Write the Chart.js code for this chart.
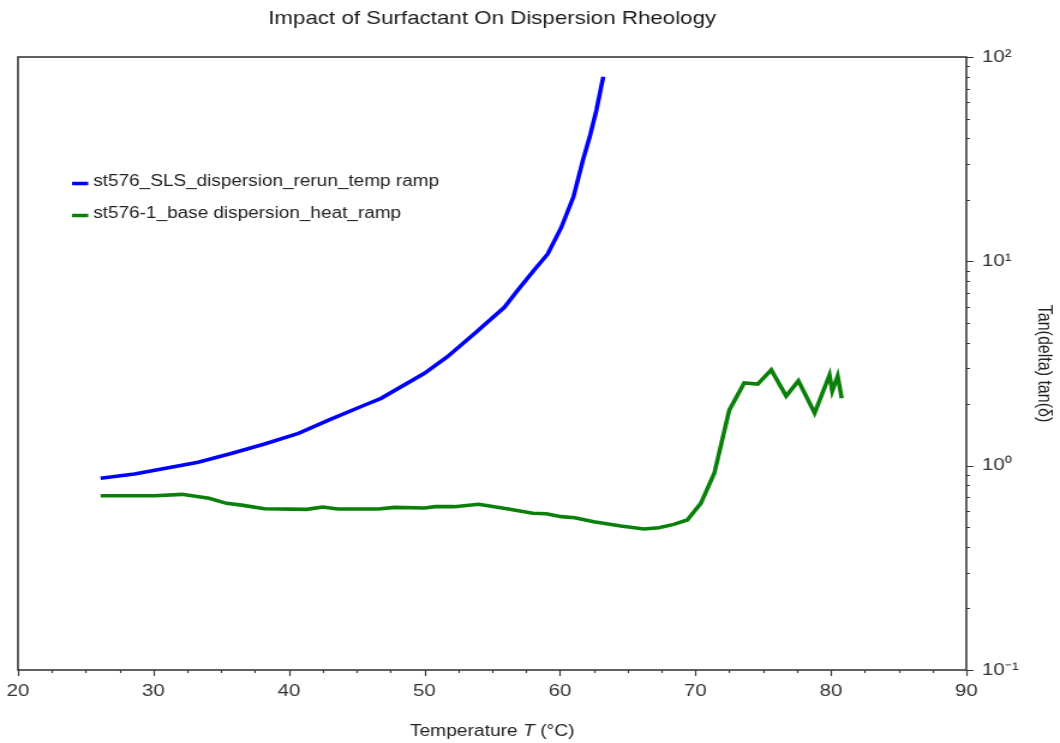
<!DOCTYPE html>
<html>
<head>
<meta charset="utf-8">
<title>Impact of Surfactant On Dispersion Rheology</title>
<style>
  html, body { margin: 0; padding: 0; background: #fff; overflow: hidden; }
  /* the plot is laid out on a narrower canvas and widened to the page */
  #wrap { width: 883px; height: 743px; transform: scaleX(1.20045); transform-origin: 0 0; }
</style>
<script src="https://cdn.jsdelivr.net/npm/chart.js@4/dist/chart.umd.min.js"></script>
</head>
<body>
<div id="wrap"><canvas id="c" width="883" height="743"></canvas></div>
<script>
// SLS dispersion, temperature ramp
const slsTemp = [26.1, 28.6, 30.6, 33.3, 35.8, 38.2, 40.7, 43.1, 45.6, 46.8, 50.0, 51.7, 53.7,
                 55.9, 56.9, 58.1, 59.1, 60.1, 61.0, 61.7, 62.2, 62.7, 63.2];
const slsTanDelta = [0.867, 0.910, 0.963, 1.039, 1.150, 1.276, 1.439, 1.691, 1.981, 2.136, 2.833, 3.414, 4.44,
                     5.96, 7.24, 9.07, 10.87, 14.65, 20.7, 31.3, 40.7, 55.1, 80.1];

// base dispersion, heat ramp
const baseTemp = [26.1, 30.1, 32.1, 34.1, 35.4, 36.5, 38.2, 41.3, 42.5, 43.6, 46.6, 47.8, 50.0, 50.8,
                  52.2, 54.0, 56.2, 58.0, 59.0, 60.1, 61.1, 62.5, 64.5, 66.2, 67.3, 68.4, 69.4, 70.4,
                  71.4, 72.5, 73.6, 74.6, 75.6, 76.7, 77.6, 78.8, 79.9, 80.1, 80.5, 80.8];
const baseTanDelta = [0.713, 0.713, 0.724, 0.692, 0.654, 0.641, 0.615, 0.611, 0.628, 0.614, 0.614, 0.625, 0.621, 0.630,
                      0.630, 0.647, 0.614, 0.585, 0.582, 0.563, 0.556, 0.532, 0.507, 0.490, 0.497, 0.516, 0.542, 0.654,
                      0.92, 1.87, 2.54, 2.51, 2.94, 2.19, 2.60, 1.81, 2.78, 2.32, 2.75, 2.14];

const seriesLabels = ['st576_SLS_dispersion_rerun_temp ramp', 'st576-1_base dispersion_heat_ramp'];
const xTickValues = [20, 30, 40, 50, 60, 70, 80, 90];
const yTickValues = [0.1, 1, 10, 100];

const FONT = '"Liberation Sans", Arial, sans-serif';
const INK = '#222';
const AXIS = '#3a3a3a';

const toPoints = (xs, ys) => xs.map((x, i) => ({ x: x, y: ys[i] }));
const SUP = { '-': '\u207B', '0': '\u2070', '1': '\u00B9', '2': '\u00B2', '3': '\u00B3' };
const powerLabel = v => '10' + String(Math.round(Math.log10(v))).split('').map(c => SUP[c]).join('');

// frame, tick marks, legend and x-axis title
const decorations = {
  id: 'decorations',
  afterDraw(chart) {
    const ctx = chart.ctx;
    const a = chart.chartArea;
    const xs = chart.scales.x, ys = chart.scales.y;
    ctx.save();
    ctx.strokeStyle = AXIS;
    ctx.lineWidth = 1.2;
    ctx.beginPath();
    for (let t = xs.min; t <= xs.max + 1e-9; t += 2.5) {
      const px = Math.round(xs.getPixelForValue(t)) + 0.5;
      const len = Math.abs(t % 10) < 1e-9 ? 6 : 3;
      ctx.moveTo(px, a.bottom);
      ctx.lineTo(px, a.bottom + len);
    }
    for (let e = -1; e <= 2; e++) {
      const d = Math.pow(10, e);
      for (let m = 1; m <= 9; m++) {
        const v = m * d;
        if (v > ys.max * 1.0001) break;
        const py = Math.round(ys.getPixelForValue(v)) + 0.5;
        const len = m === 1 ? 6 : 3;
        ctx.moveTo(a.right, py);
        ctx.lineTo(a.right + len, py);
      }
    }
    ctx.stroke();

    ctx.lineWidth = 1.6;
    ctx.strokeRect(a.left, a.top, a.right - a.left, a.bottom - a.top);

    // legend
    ctx.font = '15.8px ' + FONT;
    ctx.textBaseline = 'middle';
    ctx.textAlign = 'left';
    chart.data.datasets.forEach((ds, i) => {
      const y = 182 + i * 32;
      ctx.strokeStyle = ds.borderColor;
      ctx.lineWidth = 3.5;
      ctx.beginPath();
      ctx.moveTo(60, y + 1.5);
      ctx.lineTo(73.5, y + 1.5);
      ctx.stroke();
      ctx.fillStyle = INK;
      ctx.fillText(ds.label, 77.7, y);
    });

    // x-axis title with italic symbol
    const parts = [['Temperature ', 'normal'], ['T', 'italic'], [' (\u00B0C)', 'normal']];
    let total = 0;
    parts.forEach(p => { ctx.font = p[1] + ' 16px ' + FONT; total += ctx.measureText(p[0]).width; });
    let x = (a.left + a.right) / 2 - total / 2;
    parts.forEach(p => {
      ctx.font = p[1] + ' 16px ' + FONT;
      ctx.fillText(p[0], x, 732);
      x += ctx.measureText(p[0]).width;
    });
    ctx.restore();
  }
};

new Chart(document.getElementById('c'), {
  type: 'line',
  data: {
    datasets: [
      {
        label: seriesLabels[0],
        data: toPoints(slsTemp, slsTanDelta),
        borderColor: '#0000ff',
        borderWidth: 3.6,
        pointRadius: 0,
        tension: 0,
        fill: false
      },
      {
        label: seriesLabels[1],
        data: toPoints(baseTemp, baseTanDelta),
        borderColor: '#0a800a',
        borderWidth: 3.6,
        pointRadius: 0,
        tension: 0,
        fill: false
      }
    ]
  },
  options: {
    responsive: false,
    animation: false,
    events: [],
    layout: { padding: { left: 13.3, right: 0, top: 0, bottom: 0 } },
    plugins: {
      legend: { display: false },
      tooltip: { enabled: false },
      title: {
        display: true,
        fullSize: false,
        text: 'Impact of Surfactant On Dispersion Rheology',
        color: '#1a1a1a',
        font: { family: FONT, size: 18.6, weight: 'normal' },
        padding: { top: 7.5, bottom: 27.2 }
      }
    },
    scales: {
      x: {
        type: 'linear',
        position: 'bottom',
        min: 20,
        max: 90,
        grid: { display: false, drawTicks: true, tickLength: 6 },
        border: { display: false },
        afterBuildTicks(s) { s.ticks = xTickValues.map(v => ({ value: v })); },
        ticks: { color: '#333', font: { family: FONT, size: 17 }, padding: 5.5, maxRotation: 0, autoSkip: false },
        afterFit(s) { s.height = 73; }
      },
      y: {
        type: 'logarithmic',
        position: 'right',
        min: 0.1,
        max: 100,
        grid: { display: false, drawTicks: true, tickLength: 6 },
        border: { display: false },
        afterBuildTicks(s) { s.ticks = yTickValues.map(v => ({ value: v })); },
        ticks: {
          color: '#333',
          font: { family: FONT, size: 17 },
          padding: 7,
          autoSkip: false,
          callback: v => powerLabel(v)
        },
        title: {
          display: true,
          text: 'Tan(delta) tan(\u03B4)',
          color: INK,
          font: { family: FONT, size: 16 },
          padding: { top: 4.4, bottom: 0 }
        },
        afterFit(s) { s.width = 78; }
      }
    }
  },
  plugins: [decorations]
});
</script>
</body>
</html>
